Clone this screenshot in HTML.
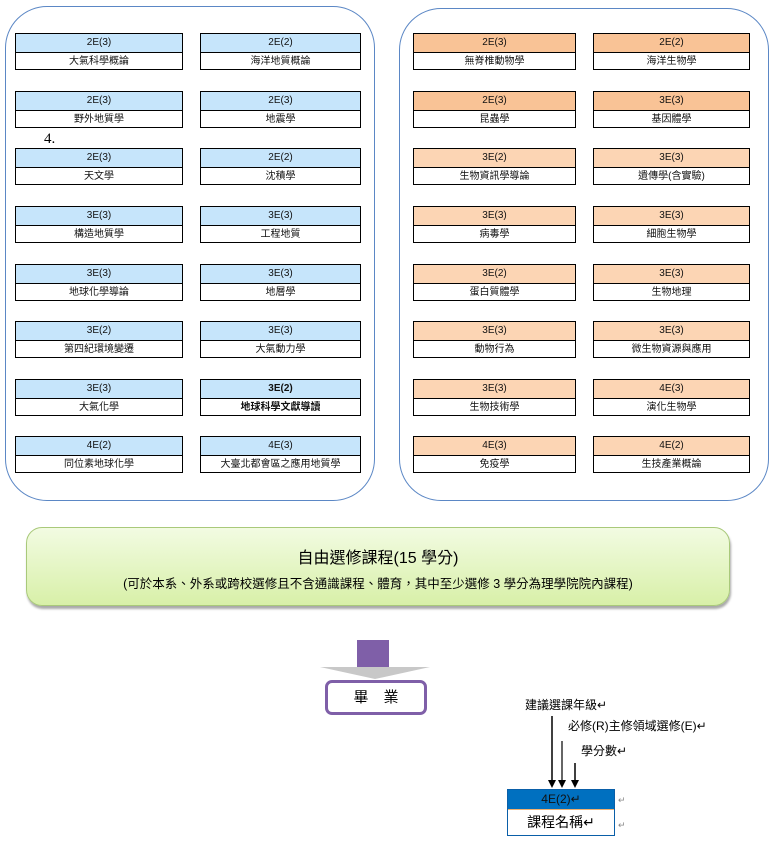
<!DOCTYPE html>
<html><head><meta charset="utf-8"><style>
body{margin:0;width:771px;height:848px;background:#fff;position:relative;overflow:hidden;font-family:"Liberation Sans","Noto Sans CJK TC",sans-serif;}
.c{position:absolute;border:1.5px solid #5b87c5;border-radius:42px;}
.b{position:absolute;height:37px;border:1px solid #000;box-sizing:border-box;font-size:10px;text-align:center;color:#111;}
.b div{height:18px;line-height:18px;}
.b div:first-child{border-bottom:1px solid #000;}
.bl div:first-child{background:#c6e5fb}
.o1 div:first-child{background:#f9c396}
.o2 div:first-child{background:#fcd5b4}
.k1{left:15px;width:168px}.k2{left:200px;width:161px}
.k3{left:413px;width:163px}.k4{left:593px;width:157px}
.t{position:absolute;font-size:12px;color:#000;white-space:nowrap}
</style></head><body>
<div class="c" style="left:5px;top:6px;width:368px;height:493px"></div>
<div class="c" style="left:399px;top:8px;width:368px;height:491px"></div>
<div style="position:absolute;left:44px;top:131px;font-family:'Liberation Serif',serif;font-size:15px">4.</div>

<div class="b bl k1" style="top:33px"><div>2E(3)</div><div>大氣科學概論</div></div>
<div class="b bl k2" style="top:33px"><div>2E(2)</div><div>海洋地質概論</div></div>
<div class="b bl k1" style="top:91px"><div>2E(3)</div><div>野外地質學</div></div>
<div class="b bl k2" style="top:91px"><div>2E(3)</div><div>地震學</div></div>
<div class="b bl k1" style="top:148px"><div>2E(3)</div><div>天文學</div></div>
<div class="b bl k2" style="top:148px"><div>2E(2)</div><div>沈積學</div></div>
<div class="b bl k1" style="top:206px"><div>3E(3)</div><div>構造地質學</div></div>
<div class="b bl k2" style="top:206px"><div>3E(3)</div><div>工程地質</div></div>
<div class="b bl k1" style="top:264px"><div>3E(3)</div><div>地球化學導論</div></div>
<div class="b bl k2" style="top:264px"><div>3E(3)</div><div>地層學</div></div>
<div class="b bl k1" style="top:321px"><div>3E(2)</div><div>第四紀環境變遷</div></div>
<div class="b bl k2" style="top:321px"><div>3E(3)</div><div>大氣動力學</div></div>
<div class="b bl k1" style="top:379px"><div>3E(3)</div><div>大氣化學</div></div>
<div class="b bl k2" style="top:379px;font-weight:bold"><div>3E(2)</div><div>地球科學文獻導讀</div></div>
<div class="b bl k1" style="top:436px"><div>4E(2)</div><div>同位素地球化學</div></div>
<div class="b bl k2" style="top:436px"><div>4E(3)</div><div>大臺北都會區之應用地質學</div></div>

<div class="b o1 k3" style="top:33px"><div>2E(3)</div><div>無脊椎動物學</div></div>
<div class="b o1 k4" style="top:33px"><div>2E(2)</div><div>海洋生物學</div></div>
<div class="b o1 k3" style="top:91px"><div>2E(3)</div><div>昆蟲學</div></div>
<div class="b o1 k4" style="top:91px"><div>3E(3)</div><div>基因體學</div></div>
<div class="b o2 k3" style="top:148px"><div>3E(2)</div><div>生物資訊學導論</div></div>
<div class="b o2 k4" style="top:148px"><div>3E(3)</div><div>遺傳學(含實驗)</div></div>
<div class="b o2 k3" style="top:206px"><div>3E(3)</div><div>病毒學</div></div>
<div class="b o2 k4" style="top:206px"><div>3E(3)</div><div>細胞生物學</div></div>
<div class="b o2 k3" style="top:264px"><div>3E(2)</div><div>蛋白質體學</div></div>
<div class="b o2 k4" style="top:264px"><div>3E(3)</div><div>生物地理</div></div>
<div class="b o2 k3" style="top:321px"><div>3E(3)</div><div>動物行為</div></div>
<div class="b o2 k4" style="top:321px"><div>3E(3)</div><div>微生物資源與應用</div></div>
<div class="b o2 k3" style="top:379px"><div>3E(3)</div><div>生物技術學</div></div>
<div class="b o2 k4" style="top:379px"><div>4E(3)</div><div>演化生物學</div></div>
<div class="b o2 k3" style="top:436px"><div>4E(3)</div><div>免疫學</div></div>
<div class="b o2 k4" style="top:436px"><div>4E(2)</div><div>生技產業概論</div></div>

<div style="position:absolute;left:26px;top:527px;width:704px;height:79px;box-sizing:border-box;border:1.5px solid #a9c97a;border-radius:16px;background:linear-gradient(#f2fbe2,#d8f0a8);box-shadow:1px 3px 2px #aaa;text-align:center">
<div style="font-size:16px;margin-top:16px">自由選修課程(15 學分)</div>
<div style="font-size:12.5px;margin-top:5px">(可於本系、外系或跨校選修且不含通識課程、體育，其中至少選修 3 學分為理學院院內課程)</div>
</div>

<div style="position:absolute;left:357px;top:640px;width:32px;height:30px;background:#7f5fa8"></div>
<div style="position:absolute;left:320px;top:667px;width:0;height:0;border-left:55px solid transparent;border-right:55px solid transparent;border-top:12px solid #c8c8c8"></div>
<div style="position:absolute;left:325px;top:680px;width:102px;height:35px;box-sizing:border-box;border:3px solid #7f5fa8;border-radius:7px;background:#fff;text-align:center;line-height:29px;font-size:15px">畢　業</div>

<div class="t" style="left:525px;top:696px">建議選課年級↵</div>
<div class="t" style="left:568px;top:717px">必修(R)主修領域選修(E)↵</div>
<div class="t" style="left:581px;top:742px">學分數↵</div>
<svg style="position:absolute;left:0;top:0" width="771" height="848">
<path d="M552,716 V781" stroke="#000" stroke-width="1.5"/>
<path d="M548,780 L556,780 L552,788 z" fill="#000"/>
<path d="M562,741 V781" stroke="#000" stroke-width="1.2"/>
<path d="M558,780 L566,780 L562,788 z" fill="#000"/>
<path d="M575,763 V781" stroke="#000" stroke-width="1.5"/>
<path d="M571,780 L579,780 L575,788 z" fill="#000"/>
</svg>
<div style="position:absolute;left:507px;top:789px;width:108px;height:47px;box-sizing:border-box;border:1px solid #0a5fa8;text-align:center">
<div style="height:19px;background:#0070c0;border-bottom:1px solid #f0b070;font-size:12px;line-height:19px;color:#111">4E(2)↵</div>
<div style="font-size:14px;line-height:25px">課程名稱↵</div>
</div>
<div class="t" style="left:618px;top:795px;font-size:9px;color:#888">↵</div>
<div class="t" style="left:618px;top:820px;font-size:9px;color:#888">↵</div>
</body></html>
